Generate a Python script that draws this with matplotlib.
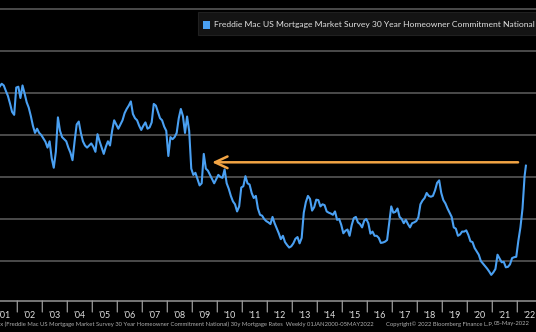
import numpy as np
import matplotlib
matplotlib.use("Agg")
import matplotlib.pyplot as plt
from matplotlib.patches import Rectangle

# Freddie Mac 30y commitment rate, monthly readings (Apr 2001 .. Apr 2022) + 05 May 2022
START_YEAR, START_MONTH = 2001, 4
RATES = [
    7.15, 7.22, 7.18, 7.05, 6.93, 6.75, 6.55, 6.48, 7.13,                   # 2001 Apr-Dec
    7.15, 6.88, 7.18, 6.99, 6.78, 6.65, 6.45, 6.22, 6.05, 6.15, 6.05, 6.00,  # 2002
    5.92, 5.84, 5.70, 5.85, 5.45, 5.22, 5.60, 6.42, 6.10, 5.95, 5.90, 5.85,  # 2003
    5.70, 5.58, 5.40, 5.85, 6.25, 6.32, 6.05, 5.85, 5.75, 5.70, 5.75, 5.80,  # 2004
    5.72, 5.60, 6.02, 5.85, 5.70, 5.55, 5.72, 5.85, 5.75, 6.10, 6.35, 6.25,  # 2005
    6.15, 6.25, 6.35, 6.52, 6.62, 6.70, 6.80, 6.50, 6.40, 6.35, 6.22, 6.12,  # 2006
    6.22, 6.30, 6.15, 6.18, 6.30, 6.74, 6.70, 6.55, 6.40, 6.35, 6.20, 6.10,  # 2007
    5.50, 5.95, 5.90, 5.95, 6.05, 6.40, 6.62, 6.45, 6.05, 6.44, 6.10, 5.20,  # 2008
    5.05, 5.10, 4.95, 4.80, 4.85, 5.55, 5.20, 5.15, 5.05, 4.95, 4.85, 4.95,  # 2009
    5.05, 5.00, 4.98, 5.18, 4.85, 4.72, 4.55, 4.42, 4.35, 4.18, 4.30, 4.75,  # 2010
    4.78, 5.02, 4.85, 4.82, 4.62, 4.50, 4.55, 4.25, 4.10, 4.08, 4.00, 3.95,  # 2011
    3.92, 3.88, 4.05, 3.90, 3.78, 3.66, 3.52, 3.60, 3.45, 3.38, 3.32, 3.35,  # 2012
    3.42, 3.53, 3.57, 3.42, 3.55, 4.15, 4.40, 4.55, 4.48, 4.20, 4.28, 4.46,  # 2013
    4.45, 4.30, 4.35, 4.33, 4.18, 4.15, 4.13, 4.10, 4.18, 3.98, 4.00, 3.86,  # 2014
    3.66, 3.72, 3.75, 3.60, 3.85, 4.02, 4.05, 3.92, 3.88, 3.80, 3.96, 4.00,  # 2015
    3.90, 3.65, 3.70, 3.60, 3.60, 3.55, 3.43, 3.44, 3.46, 3.50, 3.90, 4.30,  # 2016
    4.15, 4.17, 4.25, 4.05, 4.00, 3.90, 3.98, 3.88, 3.80, 3.90, 3.92, 3.95,  # 2017
    4.04, 4.35, 4.44, 4.50, 4.62, 4.55, 4.53, 4.55, 4.68, 4.86, 4.92, 4.62,  # 2018
    4.45, 4.37, 4.25, 4.15, 4.05, 3.80, 3.77, 3.60, 3.63, 3.70, 3.70, 3.73,  # 2019
    3.62, 3.47, 3.45, 3.31, 3.23, 3.15, 3.00, 2.94, 2.88, 2.82, 2.75, 2.67,  # 2020
    2.73, 2.81, 3.15, 3.06, 2.97, 2.98, 2.85, 2.86, 2.92, 3.07, 3.09, 3.10,  # 2021
    3.48, 3.80, 4.25, 5.02,                                                  # 2022 Jan-Apr
]
LAST_RATE = 5.27          # 05-May-2022
LAST_DATE = 2022 + 4 / 12 + 4 / 365

YEAR_LABELS = ["'%02d" % (y % 100) for y in range(2001, 2023)]
LEGEND_TEXT = "Freddie Mac US Mortgage Market Survey 30 Year Homeowner Commitment National"
FOOT_TEXT = ("Index (Freddie Mac US Mortgage Market Survey 30 Year Homeowner Commitment National) "
             "30y Mortgage Rates  Weekly 01JAN2000-05MAY2022")
COPY_TEXT = "Copyright\u00a9 2022 Bloomberg Finance L.P."
DATE_TEXT = "05-May-2022"

# arrow back from today's level to the last time rates were there
ARROW_LEVEL = 5.35
ARROW_FROM, ARROW_TO = 2022.03, 2009.79

BLUE, ORANGE = "#4aa0f2", "#f2a444"
GRID, TXT, MUTED = "#5e5e5e", "#e2e2e2", "#b0b0b0"
plt.rcParams["font.family"] = ["Lato", "DejaVu Sans"]

months = np.arange(len(RATES))
x = START_YEAR + (START_MONTH - 1 + months + 0.5) / 12
x = np.append(x, LAST_DATE)
y = np.append(RATES, LAST_RATE)

W, H = 536, 332
fig = plt.figure(figsize=(W / 100, H / 100), dpi=100, facecolor="black")
ax = fig.add_axes([0, 31 / H, 1, 1 - 31 / H], facecolor="black")
px_year = 25.0
x0 = 2002 - 17.3 / px_year
ax.set_xlim(x0, x0 + W / px_year)
ax.set_ylim(3 - 40 / 42, 9 + 9 / 42)
for s in ax.spines.values():
    s.set_visible(False)
ax.set_xticks([])
ax.set_yticks([])
for lvl in range(3, 10):
    ax.axhline(lvl, color=GRID, lw=1.1, zorder=1)

ax.plot(x, y, color=BLUE, lw=1.5, zorder=3, solid_joinstyle="round")

ax.annotate("", xy=(ARROW_TO, ARROW_LEVEL), xytext=(ARROW_FROM, ARROW_LEVEL),
            arrowprops=dict(arrowstyle="->,head_length=0.75,head_width=0.35",
                            color=ORANGE, lw=1.8, mutation_scale=12,
                            shrinkA=0, shrinkB=0), zorder=4)

# bottom axis: baseline, year separators and centred year labels
ax.axhline(ax.get_ylim()[0], color="#8a8a8a", lw=1.2, clip_on=False)
for i, lab in enumerate(YEAR_LABELS):
    yr = 2001 + i
    ax.annotate("", xy=(yr + 1, 0), xycoords=("data", "axes fraction"),
                xytext=(0, -11), textcoords="offset pixels",
                arrowprops=dict(arrowstyle="-", color="#9a9a9a", lw=0.9,
                                shrinkA=0, shrinkB=0))
    ax.text(yr + 0.5, -14 / (H - 31), lab, transform=ax.get_xaxis_transform(),
            ha="center", va="center", color=TXT, fontsize=6.4)

fig.text(374 / W, 1 - 324 / H, FOOT_TEXT, ha="right", va="center", color=MUTED, fontsize=4.2)
fig.text(386 / W, 1 - 324 / H, COPY_TEXT, ha="left", va="center", color=MUTED, fontsize=4.2)
fig.text(494 / W, 1 - 324 / H, DATE_TEXT, ha="left", va="center", color=MUTED, fontsize=4.2)

# legend strip at the top
fig.patches.append(Rectangle((198 / W, 1 - 35 / H), (W - 198) / W, 23 / H,
                             transform=fig.transFigure, facecolor="#141414",
                             edgecolor="#202020", lw=0.8, zorder=5))
fig.patches.append(Rectangle((203 / W, 1 - 28.5 / H), 7 / W, 7 / H,
                             transform=fig.transFigure, facecolor=BLUE,
                             edgecolor="none", zorder=6))
fig.text(214 / W, 1 - 25 / H, LEGEND_TEXT, ha="left", va="center",
         color=TXT, fontsize=6.1, zorder=7)

fig.savefig("out.png", dpi=100, facecolor="black")
